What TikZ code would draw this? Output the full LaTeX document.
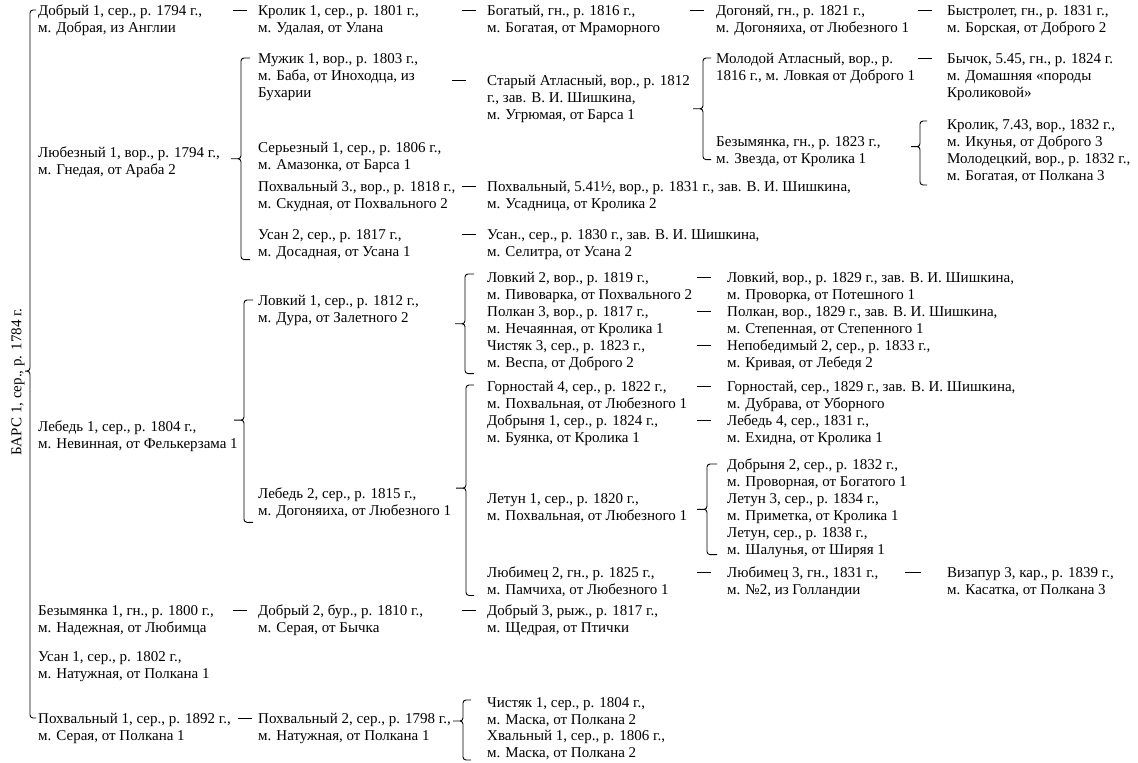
\documentclass[tikz,border=0pt]{standalone}
\usepackage{fontspec}
\setmainfont{Liberation Serif}
\usetikzlibrary{calc}

\begin{document}
\begin{tikzpicture}[x=1pt,y=-1pt,
  rec/.style={anchor=north west,inner sep=0pt,align=left,yshift=5pt,
    font=\fontsize{15}{17}\selectfont},
  rot/.style={rotate=90,inner sep=0pt,font=\fontsize{15}{17}\selectfont},
  dsh/.style={line width=0.8pt},
  brc/.style={line width=0.9pt,rounded corners=3pt}]
\useasboundingbox (0,0) rectangle (1138,763);

% root
\node[rot] (bars1) at (18,382) {БАРС 1, сер., р. 1784 г.};

% first generation
\node[rec] (dobr1) at (38,10) {Добрый 1, сер., р. 1794 г.,\\м. Добрая, из Англии};
\node[rec] (lyub1) at (38,152) {Любезный 1, вор., р. 1794 г.,\\м. Гнедая, от Араба 2};
\node[rec] (lebed1) at (38,426) {Лебедь 1, сер., р. 1804 г.,\\м. Невинная, от Фелькерзама 1};
\node[rec] (bezym1) at (38,610) {Безымянка 1, гн., р. 1800 г.,\\м. Надежная, от Любимца};
\node[rec] (usan1) at (38,656) {Усан 1, сер., р. 1802 г.,\\м. Натужная, от Полкана 1};
\node[rec] (pohv1) at (38,718) {Похвальный 1, сер., р. 1892 г.,\\м. Серая, от Полкана 1};

% second generation
\node[rec] (krol1) at (258,10) {Кролик 1, сер., р. 1801 г.,\\м. Удалая, от Улана};
\node[rec] (muzh1) at (258,58) {Мужик 1, вор., р. 1803 г.,\\м. Баба, от Иноходца, из\\Бухарии};
\node[rec] (serb1) at (258,147) {Серьезный 1, сер., р. 1806 г.,\\м. Амазонка, от Барса 1};
\node[rec] (pohv3) at (258,186) {Похвальный 3., вор., р. 1818 г.,\\м. Скудная, от Похвального 2};
\node[rec] (usan2) at (258,234) {Усан 2, сер., р. 1817 г.,\\м. Досадная, от Усана 1};
\node[rec] (lovk1) at (258,300) {Ловкий 1, сер., р. 1812 г.,\\м. Дура, от Залетного 2};
\node[rec] (lebed2) at (258,493) {Лебедь 2, сер., р. 1815 г.,\\м. Догоняиха, от Любезного 1};
\node[rec] (dobr2) at (258,610) {Добрый 2, бур., р. 1810 г.,\\м. Серая, от Бычка};
\node[rec] (pohv2) at (258,718) {Похвальный 2, сер., р. 1798 г.,\\м. Натужная, от Полкана 1};

% third generation
\node[rec] (bogat) at (487,10) {Богатый, гн., р. 1816 г.,\\м. Богатая, от Мраморного};
\node[rec] (statl) at (487,80) {Старый Атласный, вор., р. 1812\\г., зав. В. И. Шишкина,\\м. Угрюмая, от Барса 1};
\node[rec] (pohv541) at (487,186) {Похвальный, 5.41½, вор., р. 1831 г., зав. В. И. Шишкина,\\м. Усадница, от Кролика 2};
\node[rec] (usan) at (487,234) {Усан., сер., р. 1830 г., зав. В. И. Шишкина,\\м. Селитра, от Усана 2};
\node[rec] (lovk2) at (487,277) {Ловкий 2, вор., р. 1819 г.,\\м. Пивоварка, от Похвального 2};
\node[rec] (polk3) at (487,311) {Полкан 3, вор., р. 1817 г.,\\м. Нечаянная, от Кролика 1};
\node[rec] (chist3) at (487,345) {Чистяк 3, сер., р. 1823 г.,\\м. Веспа, от Доброго 2};
\node[rec] (gorn4) at (487,386) {Горностай 4, сер., р. 1822 г.,\\м. Похвальная, от Любезного 1};
\node[rec] (dobryn1) at (487,420) {Добрыня 1, сер., р. 1824 г.,\\м. Буянка, от Кролика 1};
\node[rec] (letun1) at (487,498) {Летун 1, сер., р. 1820 г.,\\м. Похвальная, от Любезного 1};
\node[rec] (lyubim2) at (487,572) {Любимец 2, гн., р. 1825 г.,\\м. Памчиха, от Любезного 1};
\node[rec] (dobr3) at (487,610) {Добрый 3, рыж., р. 1817 г.,\\м. Щедрая, от Птички};
\node[rec] (chist1) at (487,702) {Чистяк 1, сер., р. 1804 г.,\\м. Маска, от Полкана 2};
\node[rec] (hval1) at (487,735) {Хвальный 1, сер., р. 1806 г.,\\м. Маска, от Полкана 2};

% fourth generation
\node[rec] (dogon) at (716,10) {Догоняй, гн., р. 1821 г.,\\м. Догоняиха, от Любезного 1};
\node[rec] (molatl) at (716,58) {Молодой Атласный, вор., р.\\1816 г., м. Ловкая от Доброго 1};
\node[rec] (bezym) at (716,141) {Безымянка, гн., р. 1823 г.,\\м. Звезда, от Кролика 1};
\node[rec] (lovk) at (727,277) {Ловкий, вор., р. 1829 г., зав. В. И. Шишкина,\\м. Проворка, от Потешного 1};
\node[rec] (polk) at (727,311) {Полкан, вор., 1829 г., зав. В. И. Шишкина,\\м. Степенная, от Степенного 1};
\node[rec] (nepob2) at (727,345) {Непобедимый 2, сер., р. 1833 г.,\\м. Кривая, от Лебедя 2};
\node[rec] (gorn) at (727,386) {Горностай, сер., 1829 г., зав. В. И. Шишкина,\\м. Дубрава, от Уборного};
\node[rec] (lebed4) at (727,420) {Лебедь 4, сер., 1831 г.,\\м. Ехидна, от Кролика 1};
\node[rec] (dobryn2) at (727,464) {Добрыня 2, сер., р. 1832 г.,\\м. Проворная, от Богатого 1};
\node[rec] (letun3) at (727,498) {Летун 3, сер., р. 1834 г.,\\м. Приметка, от Кролика 1};
\node[rec] (letun) at (727,532) {Летун, сер., р. 1838 г.,\\м. Шалунья, от Ширяя 1};
\node[rec] (lyubim3) at (727,572) {Любимец 3, гн., 1831 г.,\\м. №2, из Голландии};

% fifth generation
\node[rec] (bystr) at (947,10) {Быстролет, гн., р. 1831 г.,\\м. Борская, от Доброго 2};
\node[rec] (bychok) at (947,58) {Бычок, 5.45, гн., р. 1824 г.\\м. Домашняя «породы\\Кроликовой»};
\node[rec] (krol743) at (947,124) {Кролик, 7.43, вор., 1832 г.,\\м. Икунья, от Доброго 3};
\node[rec] (molodec) at (947,158) {Молодецкий, вор., р. 1832 г.,\\м. Богатая, от Полкана 3};
\node[rec] (vizap3) at (947,572) {Визапур 3, кар., р. 1839 г.,\\м. Касатка, от Полкана 3};

% single lines
\draw[dsh] ([shift={(-25,5)}]krol1.north west) -- ++(14,0);
\draw[dsh] ([shift={(-25,5)}]bogat.north west) -- ++(14,0);
\draw[dsh] ([shift={(-26,5)}]dogon.north west) -- ++(14,0);
\draw[dsh] ([shift={(-29,5)}]bystr.north west) -- ++(14,0);
\draw[dsh] ([shift={(-35,5)}]statl.north west) -- ++(14,0);
\draw[dsh] ([shift={(-29,5)}]bychok.north west) -- ++(14,0);
\draw[dsh] ([shift={(-25,5)}]pohv541.north west) -- ++(14,0);
\draw[dsh] ([shift={(-25,5)}]usan.north west) -- ++(14,0);
\draw[dsh] ([shift={(-30,5)}]lovk.north west) -- ++(14,0);
\draw[dsh] ([shift={(-30,5)}]polk.north west) -- ++(14,0);
\draw[dsh] ([shift={(-30,5)}]nepob2.north west) -- ++(14,0);
\draw[dsh] ([shift={(-30,5)}]gorn.north west) -- ++(14,0);
\draw[dsh] ([shift={(-30,5)}]lebed4.north west) -- ++(14,0);
\draw[dsh] ([shift={(-30,5)}]lyubim3.north west) -- ++(14,0);
\draw[dsh] ([shift={(-42,5)}]vizap3.north west) -- ++(16,0);
\draw[dsh] ([shift={(-25,5)}]dobr2.north west) -- ++(14,0);
\draw[dsh] ([shift={(-25,5)}]dobr3.north west) -- ++(14,0);
\draw[dsh] ([shift={(-20,5)}]pohv2.north west) -- ++(14,0);

% braces
\coordinate (r0t) at ([shift={(-2,5)}]dobr1.north west);
\coordinate (r0b) at ([shift={(-2,5)}]pohv1.north west);
\draw[brc] (r0t) -| ($(r0t)!.51!(r0b)+(-6,0)$) -- ++(-5,0)
           (r0b) -| ($(r0t)!.51!(r0b)+(-6,0)$) -- ++(-5,0);

\coordinate (b1t) at ([shift={(-8,5)}]muzh1.north west);
\coordinate (b1b) at ([shift={(-8,0)}]usan2.south west);
\draw[brc] (b1t) -| ($(b1t)!.5!(b1b)+(-9,0)$) -- ++(-10,0)
           (b1b) -| ($(b1t)!.5!(b1b)+(-9,0)$) -- ++(-10,0);

\coordinate (b2t) at ([shift={(-5,5)}]molatl.north west);
\coordinate (b2b) at ([shift={(-5,-7)}]bezym.south west);
\draw[brc] (b2t) -| ($(b2t)!.5!(b2b)+(-8,0)$) -- ++(-10,0)
           (b2b) -| ($(b2t)!.5!(b2b)+(-8,0)$) -- ++(-10,0);

\coordinate (b3t) at ([shift={(-20,2)}]krol743.north west);
\coordinate (b3b) at ([shift={(-20,2)}]molodec.south west);
\draw[brc] (b3t) -| ($(b3t)!.4!(b3b)+(-7,0)$) -- ++(-9,0)
           (b3b) -| ($(b3t)!.4!(b3b)+(-7,0)$) -- ++(-9,0);

\coordinate (b4t) at ([shift={(-5,5)}]lovk1.north west);
\coordinate (b4b) at ([shift={(-5,3)}]lebed2.south west);
\draw[brc] (b4t) -| ($(b4t)!.54!(b4b)+(-9,0)$) -- ++(-10,0)
           (b4b) -| ($(b4t)!.54!(b4b)+(-9,0)$) -- ++(-10,0);

\coordinate (b5t) at ([shift={(-13,2)}]lovk2.north west);
\coordinate (b5b) at ([shift={(-13,3)}]chist3.south west);
\draw[brc] (b5t) -| ($(b5t)!.5!(b5b)+(-9,0)$) -- ++(-10,0)
           (b5b) -| ($(b5t)!.5!(b5b)+(-9,0)$) -- ++(-10,0);

\coordinate (b6t) at ([shift={(-13,4)}]gorn4.north west);
\coordinate (b6b) at ([shift={(-13,-2)}]lyubim2.south west);
\draw[brc] (b6t) -| ($(b6t)!.49!(b6b)+(-8,0)$) -- ++(-10,0)
           (b6b) -| ($(b6t)!.49!(b6b)+(-8,0)$) -- ++(-10,0);

\coordinate (b7t) at ([shift={(-10,5)}]dobryn2.north west);
\coordinate (b7b) at ([shift={(-10,-3)}]letun.south west);
\draw[brc] (b7t) -| ($(b7t)!.5!(b7b)+(-10,0)$) -- ++(-10,0)
           (b7b) -| ($(b7t)!.5!(b7b)+(-10,0)$) -- ++(-10,0);

\coordinate (b8t) at ([shift={(-16,3)}]chist1.north west);
\coordinate (b8b) at ([shift={(-16,0)}]hval1.south west);
\draw[brc] (b8t) -| ($(b8t)!.35!(b8b)+(-8,0)$) -- ++(-10,0)
           (b8b) -| ($(b8t)!.35!(b8b)+(-8,0)$) -- ++(-10,0);
\end{tikzpicture}
\end{document}
